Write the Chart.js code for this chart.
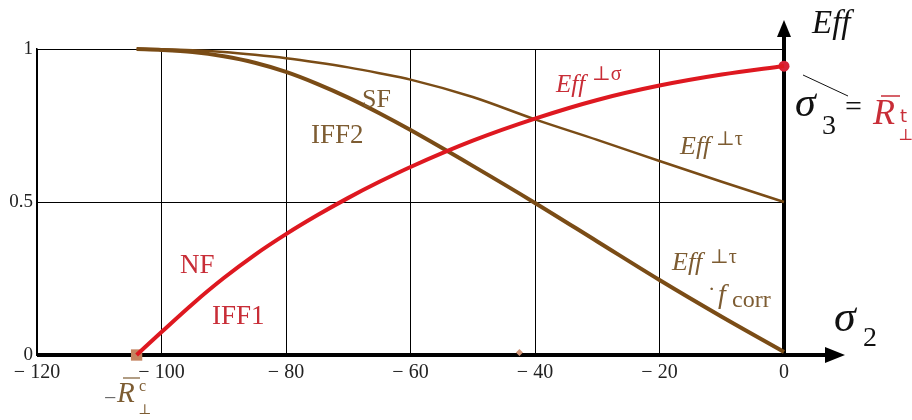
<!DOCTYPE html>
<html>
<head>
<meta charset="utf-8">
<script src="https://cdn.jsdelivr.net/npm/chart.js@4.4.1/dist/chart.umd.min.js"></script>
<style>
  html, body { margin: 0; padding: 0; background: #fff; }
  #wrap { width: 912px; height: 420px; }
</style>
</head>
<body>
<div id="wrap"><canvas id="effChart" width="912" height="420"></canvas></div>
<script>
// DATA
var xTicks = [-120, -100, -80, -60, -40, -20, 0];
var yTicks = [0, 0.5, 1];

// Eff ⊥sigma (NF / IFF1) - red
var sigma2Red = [-104, -100, -95, -90, -85, -80, -75, -70, -65, -60, -50, -40, -30, -20, -10, 0];
var effSigma = [0, 0.075, 0.167, 0.2515, 0.3275, 0.395, 0.4565, 0.5135, 0.566, 0.6145, 0.7005, 0.7725, 0.8335, 0.8805, 0.9165, 0.9445];

// Eff ⊥tau (SF) and Eff ⊥tau * fcorr (IFF2) - brown
var sigma2Tau = [-104, -100, -95, -90, -85, -80, -75, -70, -65, -60, -50, -40, -30, -20, -10, 0];
var effTau = [1, 0.999, 0.996, 0.99, 0.981, 0.97, 0.956, 0.94, 0.921, 0.90, 0.843, 0.77, 0.703, 0.634, 0.566, 0.5];
var effTauCorr = [1, 0.997, 0.99, 0.976, 0.955, 0.925, 0.886, 0.841, 0.79, 0.735, 0.618, 0.497, 0.371, 0.245, 0.125, 0.01];

// marked points
var rcPoint = [-104, 0];      // -R_perp^c
var rtPoint = [0, 0.944];     // R_perp^t
var smallPoint = [-42.5, 0.008];

var RED = "rgb(222,24,32)";
var RED_TXT = "rgb(200,45,55)";
var BROWN = "rgb(122,76,22)";
var BROWN_TXT = "rgb(125,92,50)";
var SERIF = "'Liberation Serif', 'DejaVu Serif', serif";

function pts(xs, ys) {
  return xs.map(function (v, i) { return { x: v, y: ys[i] }; });
}

/*************************PLUGINS*******************/
// thick axes with arrow heads
var axesPlugin = {
  id: "axes",
  beforeDatasetsDraw: function (chart) {
    var ctx = chart.ctx, x = chart.scales.x, y = chart.scales.y;
    var x0 = x.getPixelForValue(0), y0 = y.getPixelForValue(0);
    var xl = x.getPixelForValue(-120);
    var xTip = x.getPixelForValue(9.8), yTip = y.getPixelForValue(1.095);
    ctx.save();
    ctx.strokeStyle = "#000";
    ctx.fillStyle = "#000";
    ctx.lineWidth = 4;
    ctx.beginPath();
    ctx.moveTo(xl, y0); ctx.lineTo(xTip - 10, y0);
    ctx.moveTo(x0, y0 + 2); ctx.lineTo(x0, yTip + 10);
    ctx.stroke();
    // arrow heads
    ctx.beginPath();
    ctx.moveTo(xTip, y0); ctx.lineTo(xTip - 20, y0 - 8); ctx.lineTo(xTip - 20, y0 + 8);
    ctx.closePath(); ctx.fill();
    ctx.beginPath();
    ctx.moveTo(x0, yTip); ctx.lineTo(x0 - 7, yTip + 17); ctx.lineTo(x0 + 7, yTip + 17);
    ctx.closePath(); ctx.fill();
    ctx.restore();
  }
};

function txt(ctx, s, px, py, font, color) {
  ctx.font = font;
  ctx.fillStyle = color;
  ctx.fillText(s, px, py);
}

// labels and formulas
var labelPlugin = {
  id: "labels",
  afterDraw: function (chart) {
    var ctx = chart.ctx;
    ctx.save();
    ctx.textBaseline = "alphabetic";
    ctx.textAlign = "left";

    // Eff (axis title)
    txt(ctx, "Eff", 812, 33, "italic 33px " + SERIF, "#111");

    // sigma3 = R_perp^t
    ctx.strokeStyle = "#111"; ctx.lineWidth = 1;
    ctx.beginPath(); ctx.moveTo(803, 75); ctx.lineTo(848, 96); ctx.stroke();
    txt(ctx, "\u03c3", 795, 116, "italic 42px " + SERIF, "#111");
    txt(ctx, "3", 822, 134, "28px " + SERIF, "#111");
    txt(ctx, "=", 845, 116, "30px " + SERIF, "#111");
    txt(ctx, "R", 873, 124, "italic 36px " + SERIF, RED_TXT);
    ctx.strokeStyle = RED_TXT; ctx.lineWidth = 1.5;
    ctx.beginPath(); ctx.moveTo(881, 96); ctx.lineTo(900, 96); ctx.stroke();
    txt(ctx, "t", 900, 122, "18px 'DejaVu Sans', sans-serif", RED_TXT);
    txt(ctx, "\u22a5", 898, 140, "16px " + SERIF, RED_TXT);

    // Eff ⊥sigma
    txt(ctx, "Eff", 556, 92, "italic 25px " + SERIF, RED_TXT);
    txt(ctx, "\u22a5\u03c3", 592, 80, "20px " + SERIF, RED_TXT);

    // SF / IFF2
    txt(ctx, "SF", 362, 107, "26px " + SERIF, BROWN_TXT);
    txt(ctx, "IFF2", 311, 143, "27px " + SERIF, BROWN_TXT);

    // Eff ⊥tau (upper)
    txt(ctx, "Eff", 680, 154, "italic 26px " + SERIF, BROWN_TXT);
    txt(ctx, "\u22a5\u03c4", 716, 145, "20px " + SERIF, BROWN_TXT);

    // Eff ⊥tau * fcorr (lower)
    txt(ctx, "Eff", 672, 270, "italic 26px " + SERIF, BROWN_TXT);
    txt(ctx, "\u22a5\u03c4", 710, 263, "20px " + SERIF, BROWN_TXT);
    txt(ctx, "\u00b7", 708, 296, "22px " + SERIF, BROWN_TXT);
    txt(ctx, "f", 718, 303, "italic 28px " + SERIF, BROWN_TXT);
    txt(ctx, "corr", 732, 307, "24px " + SERIF, BROWN_TXT);

    // NF / IFF1
    txt(ctx, "NF", 180, 273, "27px " + SERIF, RED_TXT);
    txt(ctx, "IFF1", 212, 324, "27px " + SERIF, RED_TXT);

    // sigma2
    txt(ctx, "\u03c3", 834, 331, "italic 44px " + SERIF, "#111");
    txt(ctx, "2", 863, 346, "28px " + SERIF, "#111");

    // -R_perp^c
    txt(ctx, "\u2212", 104, 405, "22px " + SERIF, "#666");
    txt(ctx, "R", 117, 402, "italic 29px " + SERIF, BROWN_TXT);
    ctx.strokeStyle = BROWN_TXT; ctx.lineWidth = 1.2;
    ctx.beginPath(); ctx.moveTo(123, 378); ctx.lineTo(140, 378); ctx.stroke();
    txt(ctx, "c", 139, 391, "16px " + SERIF, BROWN_TXT);
    txt(ctx, "\u22a5", 138, 414, "14px " + SERIF, BROWN_TXT);
    ctx.restore();
  }
};

/*************************CHART CONFIGURATION*******************/
var config = {
  type: "line",
  data: {
    datasets: [
      {
        label: "Eff perp sigma",
        data: pts(sigma2Red, effSigma),
        borderColor: RED,
        borderWidth: 4,
        pointRadius: 0,
        cubicInterpolationMode: "monotone",
        fill: false
      },
      {
        label: "Eff perp tau",
        data: pts(sigma2Tau, effTau),
        borderColor: BROWN,
        borderWidth: 2.5,
        pointRadius: 0,
        cubicInterpolationMode: "monotone",
        fill: false
      },
      {
        label: "Eff perp tau * fcorr",
        data: pts(sigma2Tau, effTauCorr),
        borderColor: BROWN,
        borderWidth: 4,
        pointRadius: 0,
        cubicInterpolationMode: "monotone",
        fill: false
      },
      {
        label: "-Rc",
        data: [{ x: rcPoint[0], y: rcPoint[1] }],
        showLine: false,
        pointStyle: "rect",
        pointRadius: 8,
        pointBackgroundColor: "rgb(196,132,96)",
        pointBorderWidth: 0
      },
      {
        label: "Rt",
        data: [{ x: rtPoint[0], y: rtPoint[1] }],
        showLine: false,
        pointStyle: "circle",
        pointRadius: 5.5,
        pointBackgroundColor: "rgb(215,35,55)",
        pointBorderWidth: 0
      },
      {
        label: "small",
        data: [{ x: smallPoint[0], y: smallPoint[1] }],
        showLine: false,
        pointStyle: "rectRot",
        pointRadius: 3.5,
        pointBackgroundColor: "rgb(210,150,120)",
        pointBorderWidth: 0
      }
    ]
  },
  options: {
    responsive: false,
    animation: false,
    clip: false,
    layout: { padding: { top: 49, right: 128, left: 0, bottom: 0 } },
    plugins: {
      legend: { display: false },
      tooltip: { enabled: false }
    },
    scales: {
      x: {
        type: "linear",
        min: -120,
        max: 0,
        afterBuildTicks: function (scale) {
          scale.ticks = xTicks.map(function (v) { return { value: v }; });
        },
        afterFit: function (scale) { scale.height = 65; },
        ticks: {
          maxRotation: 0,
          padding: 6,
          color: "#222",
          font: { family: SERIF, size: 20 },
          callback: function (v) { return v < 0 ? "\u2212 " + Math.abs(v) : String(v); }
        },
        grid: { color: "#000", lineWidth: 1, drawTicks: false },
        border: { display: false }
      },
      y: {
        type: "linear",
        min: 0,
        max: 1,
        afterBuildTicks: function (scale) {
          scale.ticks = yTicks.map(function (v) { return { value: v }; });
        },
        afterFit: function (scale) { scale.width = 37; },
        ticks: {
          padding: 4,
          color: "#222",
          font: { family: SERIF, size: 19 },
          callback: function (v) { return String(v); }
        },
        grid: { color: "#000", lineWidth: 1, drawTicks: false },
        border: { display: true, color: "#000", width: 1.5 }
      }
    }
  },
  plugins: [axesPlugin, labelPlugin]
};

//ONLOAD
window.onload = function () {
  var ctx = document.getElementById("effChart").getContext("2d");
  window.effChart = new Chart(ctx, config);
};
</script>
</body>
</html>
